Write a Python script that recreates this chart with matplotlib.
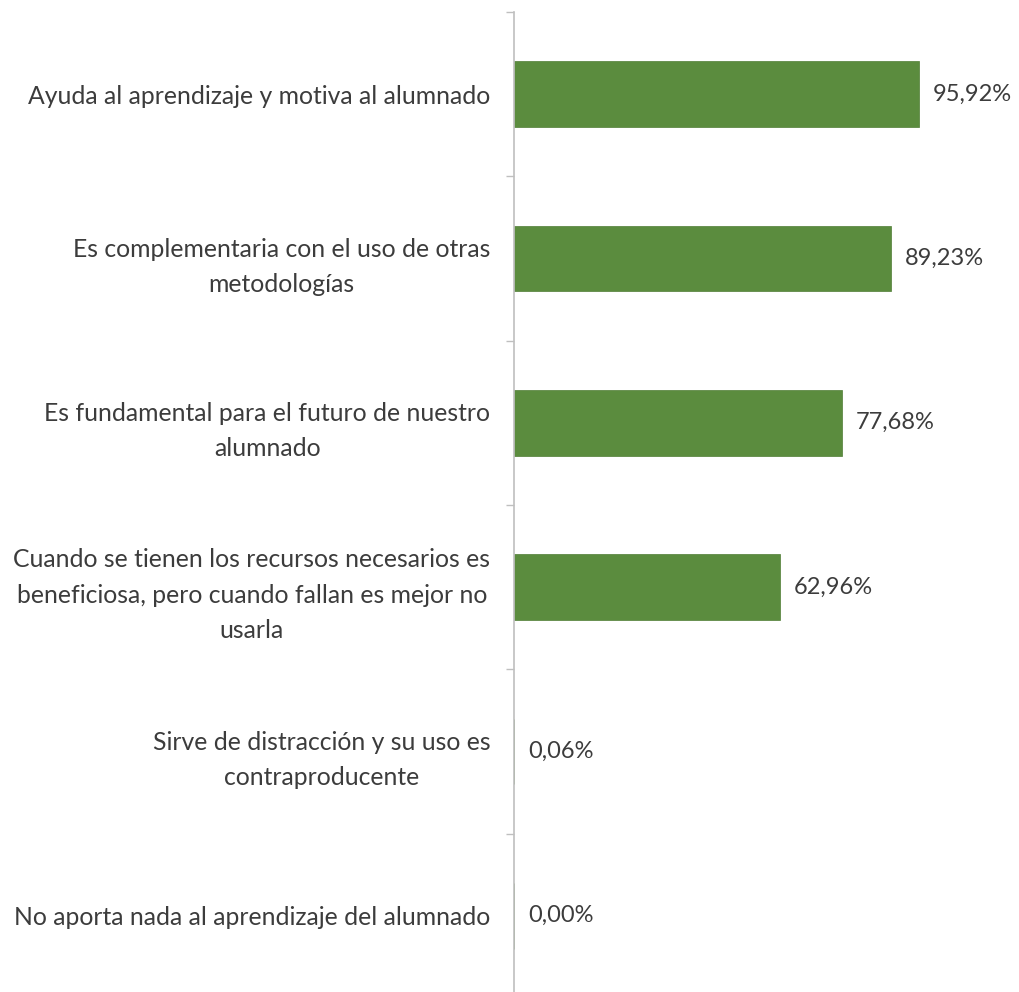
import numpy as np
import matplotlib.pyplot as plt

categories = [
    "Ayuda al aprendizaje y motiva al alumnado",
    "Es complementaria con el uso de otras\nmetodologías",
    "Es fundamental para el futuro de nuestro\nalumnado",
    "Cuando se tienen los recursos necesarios es\nbeneficiosa, pero cuando fallan es mejor no\nusarla",
    "Sirve de distracción y su uso es\ncontraproducente",
    "No aporta nada al aprendizaje del alumnado",
]
values = [95.92, 89.23, 77.68, 62.96, 0.06, 0.00]
value_labels = ["95,92%", "89,23%", "77,68%", "62,96%", "0,06%", "0,00%"]

plt.rcParams['font.family'] = ['Lato', 'DejaVu Sans']

fig = plt.figure(figsize=(10.2, 9.92), dpi=100)
ax = fig.add_axes([514 / 1020, -6 / 992, 422 / 1020, 986 / 992])

y = np.arange(len(categories))
ax.barh(y, values, height=0.40, color='#5B8C3E', edgecolor='#4f7d35', linewidth=0.5)

for yi, v, lab in zip(y, values, value_labels):
    ax.text(v + 3.4, yi, lab, va='center', ha='left', fontsize=17, color='#3c3c3c')

ax.set_xlim(0, 100)
ax.set_ylim(len(categories) - 0.5, -0.5)

ax.set_yticks(y)
ax.set_yticklabels(categories, fontsize=17.8, color='#3c3c3c',
                   multialignment='center', linespacing=1.65)
ax.set_yticks(np.arange(len(categories) + 1) - 0.5, minor=True)
ax.tick_params(axis='y', which='major', length=0, pad=17)
ax.tick_params(axis='y', which='minor', length=6, color='#bfbfbf', width=1)
ax.set_xticks([])

for side in ['top', 'right', 'bottom']:
    ax.spines[side].set_visible(False)
ax.spines['left'].set_color('#bfbfbf')
ax.spines['left'].set_linewidth(1.2)

fig.savefig('out.png', dpi=100)
